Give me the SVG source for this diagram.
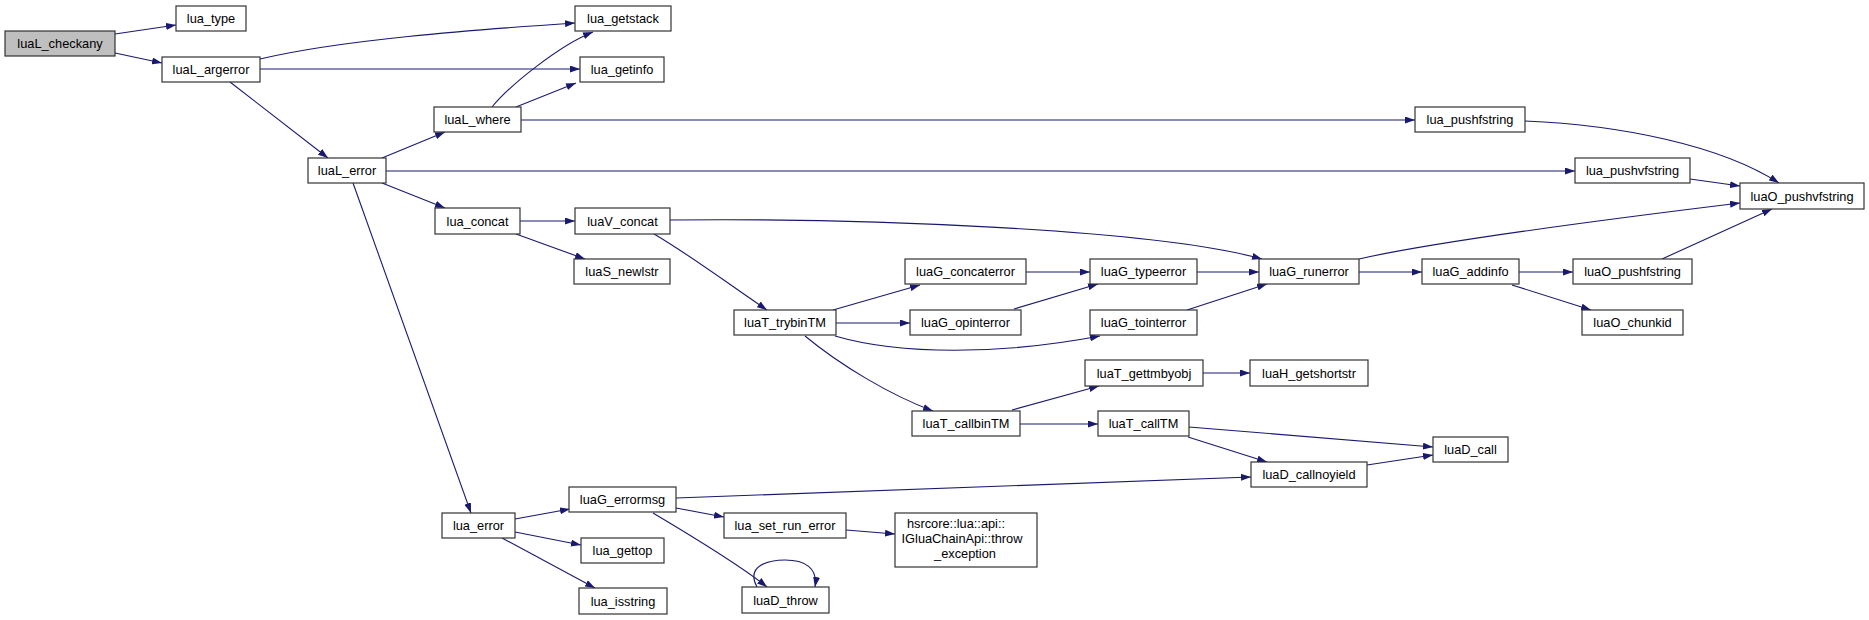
<svg xmlns="http://www.w3.org/2000/svg" width="1869" height="620" viewBox="0 0 1869 620">
<defs>
<marker id="arr" viewBox="0 0 10 7" refX="10" refY="3.5" markerWidth="10" markerHeight="7" markerUnits="userSpaceOnUse" orient="auto"><path d="M0,0 L10,3.5 L0,7 z" fill="#191970"/></marker>
<style>
.n rect{fill:#ffffff;stroke:#333333;stroke-width:1.2}
.n.root rect{fill:#bfbfbf}
.n text{font-family:"Liberation Sans",Arial,sans-serif;font-size:12.8px;fill:#000;text-anchor:middle}
#edges path{fill:none;stroke:#191970;stroke-width:1.1;marker-end:url(#arr)}
</style>
</defs>
<rect width="1869" height="620" fill="#ffffff"/>
<g id="edges">
<path d="M115,34 L176,25"/>
<path d="M115,53 L162,63"/>
<path d="M260,59 C340,40 470,30 575,23"/>
<path d="M260,69 L580,69"/>
<path d="M230,82 L328,158"/>
<path d="M492,107 C510,85 560,45 593,32"/>
<path d="M516,107 L576,83"/>
<path d="M521,120 L1415,120"/>
<path d="M382,158 L445,132"/>
<path d="M386,171 L1575,171"/>
<path d="M382,183 L445,208"/>
<path d="M353,183 L471,513"/>
<path d="M1525,121 C1620,125 1720,145 1779,183"/>
<path d="M1690,179 L1740,186"/>
<path d="M1359,259 C1420,245 1560,225 1740,203"/>
<path d="M1662,259 L1772,209"/>
<path d="M1519,272 L1573,272"/>
<path d="M1512,285 L1591,310"/>
<path d="M1359,272 L1422,272"/>
<path d="M520,221 L575,221"/>
<path d="M516,234 L585,259"/>
<path d="M670,220 C850,218 1150,228 1262,259"/>
<path d="M654,234 C690,255 730,285 767,310"/>
<path d="M833,310 L920,285"/>
<path d="M836,323 L910,323"/>
<path d="M835,336 C900,355 1000,355 1100,336"/>
<path d="M805,336 C840,365 890,395 933,411"/>
<path d="M1026,272 L1090,272"/>
<path d="M1014,309 L1098,284"/>
<path d="M1197,272 L1259,272"/>
<path d="M1187,310 L1267,284"/>
<path d="M1012,410 L1099,386"/>
<path d="M1020,424 L1098,424"/>
<path d="M1203,373 L1250,373"/>
<path d="M1189,427 L1433,447"/>
<path d="M1188,437 L1267,462"/>
<path d="M1367,465 L1433,455"/>
<path d="M515,519 L570,509"/>
<path d="M515,532 L581,545"/>
<path d="M502,538 L595,588"/>
<path d="M676,498 C900,490 1100,482 1251,477"/>
<path d="M676,508 L724,517"/>
<path d="M653,513 C690,535 740,565 767,587"/>
<path d="M846,530 L895,534"/>
<path d="M757,587 C745,565 770,560 785,560 C805,560 818,568 815,587"/>
</g>
<g id="luaL_checkany" class="n root"><rect x="5" y="31" width="110" height="25"/><text x="60" y="48">luaL_checkany</text></g>
<g id="lua_type" class="n"><rect x="176" y="6" width="70" height="25"/><text x="211" y="23">lua_type</text></g>
<g id="luaL_argerror" class="n"><rect x="162" y="57" width="98" height="25"/><text x="211" y="74">luaL_argerror</text></g>
<g id="lua_getstack" class="n"><rect x="575" y="6" width="96" height="25"/><text x="623" y="23">lua_getstack</text></g>
<g id="lua_getinfo" class="n"><rect x="580" y="57" width="84" height="25"/><text x="622" y="74">lua_getinfo</text></g>
<g id="luaL_where" class="n"><rect x="434" y="107" width="87" height="25"/><text x="477.5" y="124">luaL_where</text></g>
<g id="luaL_error" class="n"><rect x="308" y="158" width="78" height="25"/><text x="347" y="175">luaL_error</text></g>
<g id="lua_pushfstring" class="n"><rect x="1415" y="107" width="110" height="25"/><text x="1470" y="124">lua_pushfstring</text></g>
<g id="lua_pushvfstring" class="n"><rect x="1575" y="158" width="115" height="25"/><text x="1632.5" y="175">lua_pushvfstring</text></g>
<g id="luaO_pushvfstring" class="n"><rect x="1740" y="183" width="124" height="26"/><text x="1802" y="200.5">luaO_pushvfstring</text></g>
<g id="lua_concat" class="n"><rect x="435" y="208" width="85" height="26"/><text x="477.5" y="225.5">lua_concat</text></g>
<g id="luaV_concat" class="n"><rect x="575" y="208" width="95" height="26"/><text x="622.5" y="225.5">luaV_concat</text></g>
<g id="luaS_newlstr" class="n"><rect x="574" y="259" width="96" height="25"/><text x="622" y="276">luaS_newlstr</text></g>
<g id="luaT_trybinTM" class="n"><rect x="734" y="310" width="102" height="25"/><text x="785" y="327">luaT_trybinTM</text></g>
<g id="luaG_concaterror" class="n"><rect x="905" y="259" width="121" height="25"/><text x="965.5" y="276">luaG_concaterror</text></g>
<g id="luaG_opinterror" class="n"><rect x="910" y="310" width="111" height="25"/><text x="965.5" y="327">luaG_opinterror</text></g>
<g id="luaG_typeerror" class="n"><rect x="1090" y="259" width="107" height="25"/><text x="1143.5" y="276">luaG_typeerror</text></g>
<g id="luaG_tointerror" class="n"><rect x="1090" y="310" width="107" height="25"/><text x="1143.5" y="327">luaG_tointerror</text></g>
<g id="luaG_runerror" class="n"><rect x="1259" y="259" width="100" height="25"/><text x="1309" y="276">luaG_runerror</text></g>
<g id="luaG_addinfo" class="n"><rect x="1422" y="259" width="97" height="25"/><text x="1470.5" y="276">luaG_addinfo</text></g>
<g id="luaO_pushfstring" class="n"><rect x="1573" y="259" width="119" height="25"/><text x="1632.5" y="276">luaO_pushfstring</text></g>
<g id="luaO_chunkid" class="n"><rect x="1582" y="310" width="101" height="25"/><text x="1632.5" y="327">luaO_chunkid</text></g>
<g id="luaT_callbinTM" class="n"><rect x="912" y="411" width="108" height="25"/><text x="966" y="428">luaT_callbinTM</text></g>
<g id="luaT_gettmbyobj" class="n"><rect x="1085" y="360" width="118" height="26"/><text x="1144" y="377.5">luaT_gettmbyobj</text></g>
<g id="luaH_getshortstr" class="n"><rect x="1250" y="360" width="118" height="26"/><text x="1309" y="377.5">luaH_getshortstr</text></g>
<g id="luaT_callTM" class="n"><rect x="1098" y="411" width="91" height="25"/><text x="1143.5" y="428">luaT_callTM</text></g>
<g id="luaD_call" class="n"><rect x="1433" y="437" width="75" height="25"/><text x="1470.5" y="454">luaD_call</text></g>
<g id="luaD_callnoyield" class="n"><rect x="1251" y="462" width="116" height="25"/><text x="1309" y="479">luaD_callnoyield</text></g>
<g id="lua_error" class="n"><rect x="442" y="513" width="73" height="25"/><text x="478.5" y="530">lua_error</text></g>
<g id="luaG_errormsg" class="n"><rect x="569" y="487" width="107" height="25"/><text x="622.5" y="504">luaG_errormsg</text></g>
<g id="lua_set_run_error" class="n"><rect x="724" y="513" width="122" height="25"/><text x="785" y="530">lua_set_run_error</text></g>
<g id="hsrcore_throw_exception" class="n"><rect x="895" y="513" width="142" height="54"/><text x="956" y="528">hsrcore::lua::api::</text><text x="962" y="543">IGluaChainApi::throw</text><text x="965" y="558">_exception</text></g>
<g id="lua_gettop" class="n"><rect x="581" y="538" width="83" height="25"/><text x="622.5" y="555">lua_gettop</text></g>
<g id="lua_isstring" class="n"><rect x="579" y="588" width="88" height="26"/><text x="623" y="605.5">lua_isstring</text></g>
<g id="luaD_throw" class="n"><rect x="742" y="587" width="87" height="26"/><text x="785.5" y="604.5">luaD_throw</text></g>
</svg>
